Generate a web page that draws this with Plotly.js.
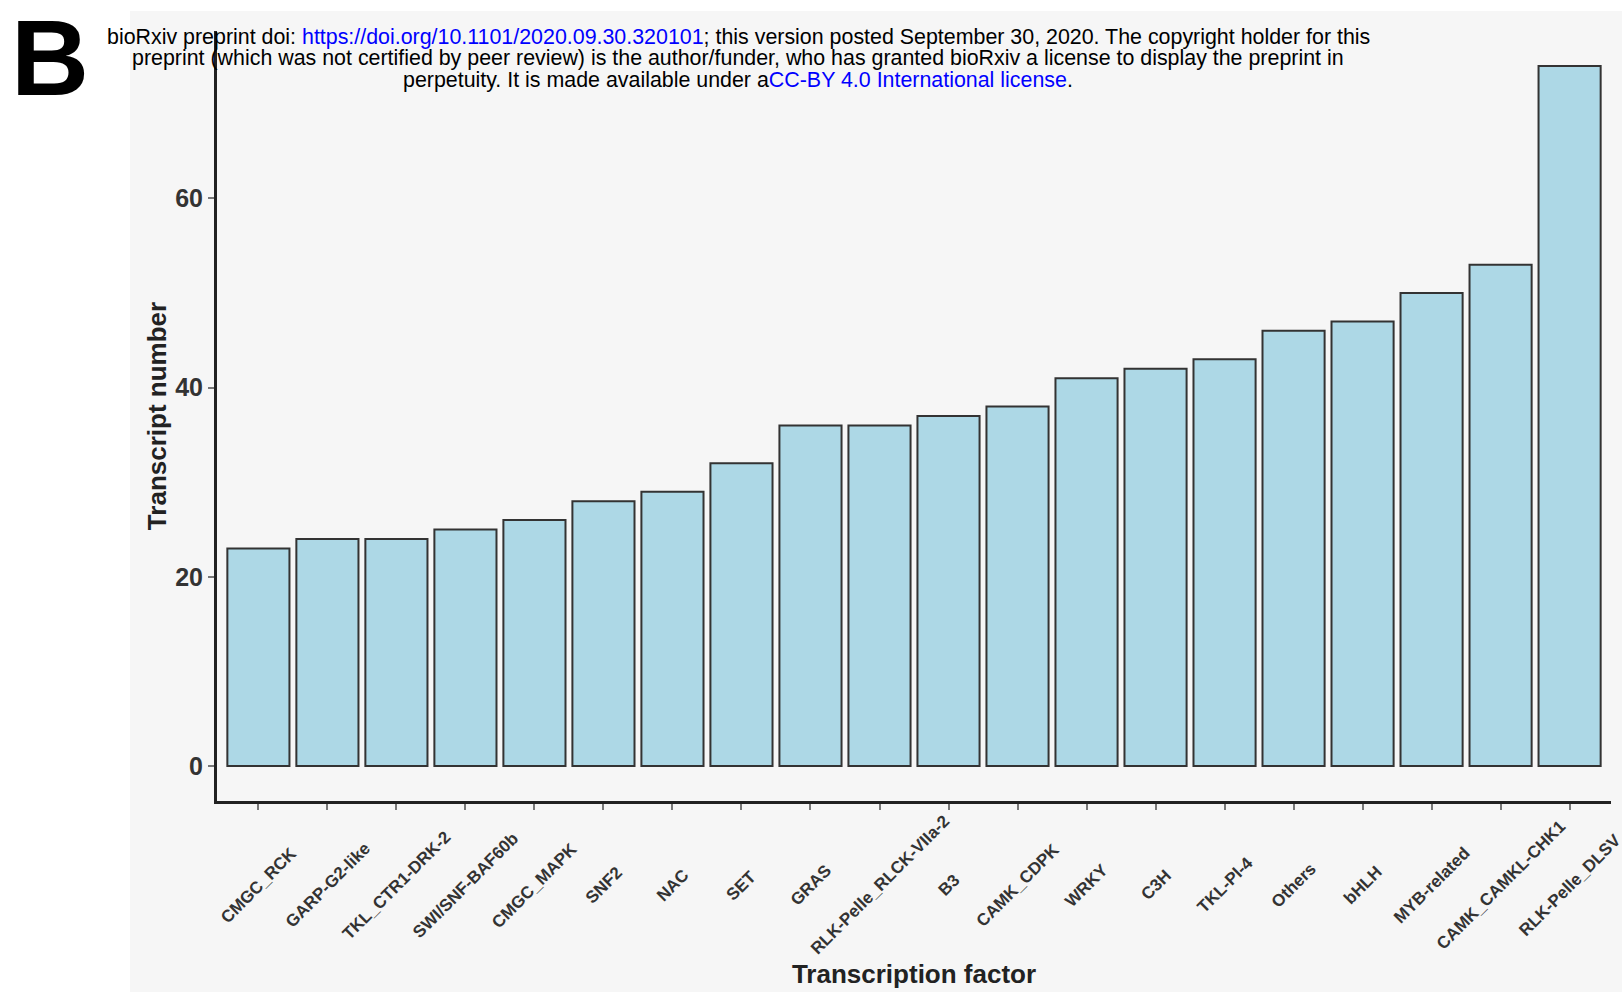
<!DOCTYPE html>
<html>
<head>
<meta charset="utf-8">
<script src="https://cdn.plot.ly/plotly-3.0.1.min.js"></script>
<style>
  html, body { margin: 0; padding: 0; background: #ffffff; }
  #chart { width: 1622px; height: 992px; }
</style>
</head>
<body>
<div id="chart"></div>
<script>
// Transcript counts per transcription factor / kinase family
const categories = [
  'CMGC_RCK', 'GARP-G2-like', 'TKL_CTR1-DRK-2', 'SWI/SNF-BAF60b', 'CMGC_MAPK',
  'SNF2', 'NAC', 'SET', 'GRAS', 'RLK-Pelle_RLCK-VIIa-2',
  'B3', 'CAMK_CDPK', 'WRKY', 'C3H', 'TKL-Pl-4',
  'Others', 'bHLH', 'MYB-related', 'CAMK_CAMKL-CHK1', 'RLK-Pelle_DLSV'
];
const transcriptNumber = [
  23, 24, 24, 25, 26,
  28, 29, 32, 36, 36,
  37, 38, 41, 42, 43,
  46, 47, 50, 53, 74
];
const yTickValues = [0, 20, 40, 60];

const xTitle = 'Transcription factor';
const yTitle = 'Transcript number';
const panelLetter = 'B';
const noticeLines = [
  'bioRxiv preprint doi: <span style="color:#0000ff">https://doi.org/10.1101/2020.09.30.320101</span>; this version posted September 30, 2020. The copyright holder for this',
  'preprint (which was not certified by peer review) is the author/funder, who has granted bioRxiv a license to display the preprint in',
  'perpetuity. It is made available under a<span style="color:#0000ff">CC-BY 4.0 International license</span>.'
];

// Page geometry (pixels) and helpers converting to paper coordinates
const W = 1622, H = 992;
const L = 217, R = 1611, T = 31, B = 801;
const px = x => (x - L) / (R - L);
const py = y => (B - y) / (B - T);

const FONT = 'Liberation Sans, Arial, Helvetica, sans-serif';
const PANEL = '#f6f6f6';

const trace = {
  type: 'bar',
  x: categories,
  y: transcriptNumber,
  width: 0.9,
  marker: {
    color: '#add8e6',
    line: { color: '#333333', width: 2 }
  },
  hoverinfo: 'x+y'
};

const annotations = [];

// rotated category labels, centred under each tick
categories.forEach(c => {
  annotations.push({
    x: c, xref: 'x',
    y: py(885), yref: 'paper',
    text: c,
    textangle: -45,
    showarrow: false,
    xanchor: 'center', yanchor: 'middle',
    font: { family: FONT, size: 17, color: '#333333', weight: 'bold' }
  });
});

// panel letter
annotations.push({
  x: px(50), xref: 'paper', y: py(57), yref: 'paper',
  text: panelLetter, showarrow: false,
  xanchor: 'center', yanchor: 'middle',
  font: { family: FONT, size: 108, color: '#000000', weight: 'bold' }
});

// preprint notice, one line per annotation
const noticeY = [37, 58.3, 79.6];
noticeLines.forEach((t, i) => {
  annotations.push({
    x: px(738), xref: 'paper', y: py(noticeY[i]), yref: 'paper',
    text: t, showarrow: false,
    xanchor: 'center', yanchor: 'middle',
    font: { family: FONT, size: 21.4, color: '#000000' }
  });
});

const layout = {
  width: W, height: H,
  margin: { l: L, r: W - R, t: T, b: H - B, pad: 0 },
  paper_bgcolor: PANEL,
  plot_bgcolor: PANEL,
  showlegend: false,
  bargap: 0.1,
  xaxis: {
    type: 'category',
    range: [-0.6, categories.length - 0.4],
    showticklabels: false,
    ticks: 'outside', ticklen: 6, tickwidth: 1.5, tickcolor: '#777777',
    showline: true, linecolor: '#222222', linewidth: 3,
    showgrid: false, zeroline: false, fixedrange: true,
    title: {
      text: xTitle, standoff: 156,
      font: { family: FONT, size: 26, color: '#222222', weight: 'bold' }
    }
  },
  yaxis: {
    range: [-3.7, 77.7],
    tickvals: yTickValues,
    ticktext: yTickValues.map(String),
    ticks: 'outside', ticklen: 6, tickwidth: 1.5, tickcolor: '#777777',
    tickfont: { family: FONT, size: 25, color: '#333333', weight: 'bold' },
    showline: true, linecolor: '#222222', linewidth: 3,
    showgrid: false, zeroline: false, fixedrange: true,
    title: {
      text: yTitle, standoff: 2,
      font: { family: FONT, size: 26, color: '#222222', weight: 'bold' }
    }
  },
  shapes: [
    // white margins around the grey panel
    { type: 'rect', xref: 'paper', yref: 'paper', layer: 'below',
      x0: px(0), x1: px(130), y0: py(H), y1: py(0),
      fillcolor: '#ffffff', line: { width: 0 } },
    { type: 'rect', xref: 'paper', yref: 'paper', layer: 'below',
      x0: px(0), x1: px(W), y0: py(11), y1: py(0),
      fillcolor: '#ffffff', line: { width: 0 } }
  ],
  annotations: annotations
};

Plotly.newPlot('chart', [trace], layout, { displayModeBar: false, responsive: false });
</script>
</body>
</html>
